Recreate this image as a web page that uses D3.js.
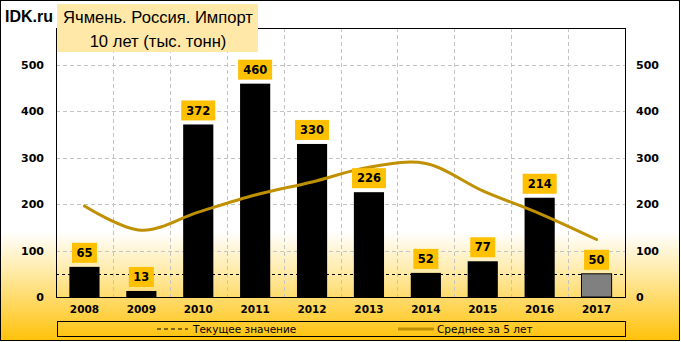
<!DOCTYPE html>
<html><head><meta charset="utf-8">
<script src="https://cdn.jsdelivr.net/npm/d3@7"></script>
<style>body{margin:0;padding:0;background:#fff}svg{display:block}</style>
</head><body>
<script>
const years = ["2008","2009","2010","2011","2012","2013","2014","2015","2016","2017"];
const imports = [65,13,372,460,330,226,52,77,214,50];
const avg5 = [196,144,183,220,248,280,288,229,180,124];
const currentValue = 50;
const yTicks = [0,100,200,300,400,500];
const titleLines = ["Ячмень. Россия. Импорт","10 лет (тыс. тонн)"];
const legendLabels = ["Текущее значение","Среднее за 5 лет"];

const W=681,H=342;
const svg=d3.select("body").append("svg").attr("width",W).attr("height",H);
const defs=svg.append("defs");
const g=defs.append("linearGradient").attr("id","bg").attr("x1",0).attr("y1",0).attr("x2",0).attr("y2",1);
g.append("stop").attr("offset",0).attr("stop-color","#ffffff");
g.append("stop").attr("offset",0.68).attr("stop-color","#ffffff");
g.append("stop").attr("offset",0.8).attr("stop-color","#ffeaa6");
g.append("stop").attr("offset",1).attr("stop-color","#ffc20a");
svg.append("rect").attr("x",0.5).attr("y",0.5).attr("width",W-2).attr("height",H-2)
  .attr("fill","url(#bg)").attr("stroke","#000").attr("stroke-width",1);

const L=56,R=625,T=28,B=297;
const x=d3.scaleBand().domain(years).range([L,R]).paddingInner(0.47).paddingOuter(0.235);
const y=d3.scaleLinear().domain([0,580]).range([B,T]);

// grid
const grid=svg.append("g").attr("stroke","#c4c4c4").attr("stroke-dasharray","4,3").attr("stroke-width",1);
yTicks.filter(d=>d>0).forEach(t=>{
  grid.append("line").attr("x1",L).attr("x2",R).attr("y1",Math.round(y(t))+0.5).attr("y2",Math.round(y(t))+0.5);
});
years.slice(1).forEach(yr=>{
  const xx=Math.round(x(yr)-x.step()*x.paddingInner()/2)+0.5;
  grid.append("line").attr("x1",xx).attr("x2",xx).attr("y1",T).attr("y2",B);
});

// current value line
svg.append("line").attr("x1",L).attr("x2",R).attr("y1",Math.round(y(currentValue))+0.5).attr("y2",Math.round(y(currentValue))+0.5)
  .attr("stroke","#000").attr("stroke-dasharray","3,3").attr("stroke-width",1);

// bars
svg.append("g").selectAll("rect").data(years).join("rect")
  .attr("x",d=>x(d)).attr("width",x.bandwidth())
  .attr("y",(d,i)=>y(imports[i])).attr("height",(d,i)=>B-y(imports[i]))
  .attr("fill",(d,i)=>i===years.length-1?"#808080":"#000")
  .attr("stroke",(d,i)=>i===years.length-1?"#000":"none");

// average line
const line=d3.line().x((d,i)=>x(years[i])+x.bandwidth()/2).y(d=>y(d)).curve(d3.curveCatmullRom.alpha(0.5));
svg.append("path").attr("d",line(avg5)).attr("fill","none").attr("stroke","#bf9000").attr("stroke-width",3).attr("stroke-linecap","round");

// plot border
svg.append("rect").attr("x",L+0.5).attr("y",T+0.5).attr("width",R-L).attr("height",B-T).attr("fill","none").attr("stroke","#000");

// labels
const lab=svg.append("g");
years.forEach((yr,i)=>{
  const s=String(imports[i]);
  const w=s.length===3?34:25;
  const cx=x(yr)+x.bandwidth()/2;
  const by=y(imports[i])-4;
  lab.append("rect").attr("x",cx-w/2).attr("y",by-20).attr("width",w).attr("height",20).attr("fill","#ffc000");
  lab.append("text").attr("x",cx).attr("y",by-10).attr("dy","0.36em").attr("text-anchor","middle")
    .attr("font-family","DejaVu Sans").attr("font-weight","bold").attr("font-size",11.5).text(s);
});

// axes
const ax=svg.append("g").attr("font-family","DejaVu Sans").attr("font-weight","bold").attr("font-size",11).attr("fill","#000");
yTicks.forEach(t=>{
  ax.append("text").attr("x",44).attr("y",y(t)).attr("dy","0.36em").attr("text-anchor","end").text(t);
  ax.append("text").attr("x",636).attr("y",y(t)).attr("dy","0.36em").attr("text-anchor","start").text(t);
});
years.forEach(yr=>{
  ax.append("text").attr("x",x(yr)+x.bandwidth()/2).attr("y",309).attr("dy","0.36em").attr("text-anchor","middle")
    .attr("font-size",10.5).text(yr);
});

// title
svg.append("text").attr("x",5).attr("y",22).attr("font-family","Liberation Sans").attr("font-weight","bold").attr("font-size",16).text("IDK.ru");
svg.append("rect").attr("x",57).attr("y",4).attr("width",201).attr("height",48).attr("fill","#ffe8a8");
svg.append("text").attr("x",158).attr("y",17).attr("dy","0.36em").attr("text-anchor","middle").attr("font-family","Liberation Sans").attr("font-size",16.6).text(titleLines[0]);
svg.append("text").attr("x",158).attr("y",41).attr("dy","0.36em").attr("text-anchor","middle").attr("font-family","Liberation Sans").attr("font-size",16.6).text(titleLines[1]);

// legend
svg.append("rect").attr("x",57.5).attr("y",321.5).attr("width",568).attr("height",15).attr("fill","none").attr("stroke","#000");
svg.append("line").attr("x1",157).attr("x2",188).attr("y1",329).attr("y2",329).attr("stroke","#000").attr("stroke-dasharray","4,3");
svg.append("text").attr("x",193).attr("y",329).attr("dy","0.36em").attr("font-family","DejaVu Sans").attr("font-size",10.5).text(legendLabels[0]);
svg.append("line").attr("x1",398).attr("x2",434).attr("y1",329).attr("y2",329).attr("stroke","#bf9000").attr("stroke-width",3);
svg.append("text").attr("x",437).attr("y",329).attr("dy","0.36em").attr("font-family","DejaVu Sans").attr("font-size",10.5).text(legendLabels[1]);
</script>
</body></html>
